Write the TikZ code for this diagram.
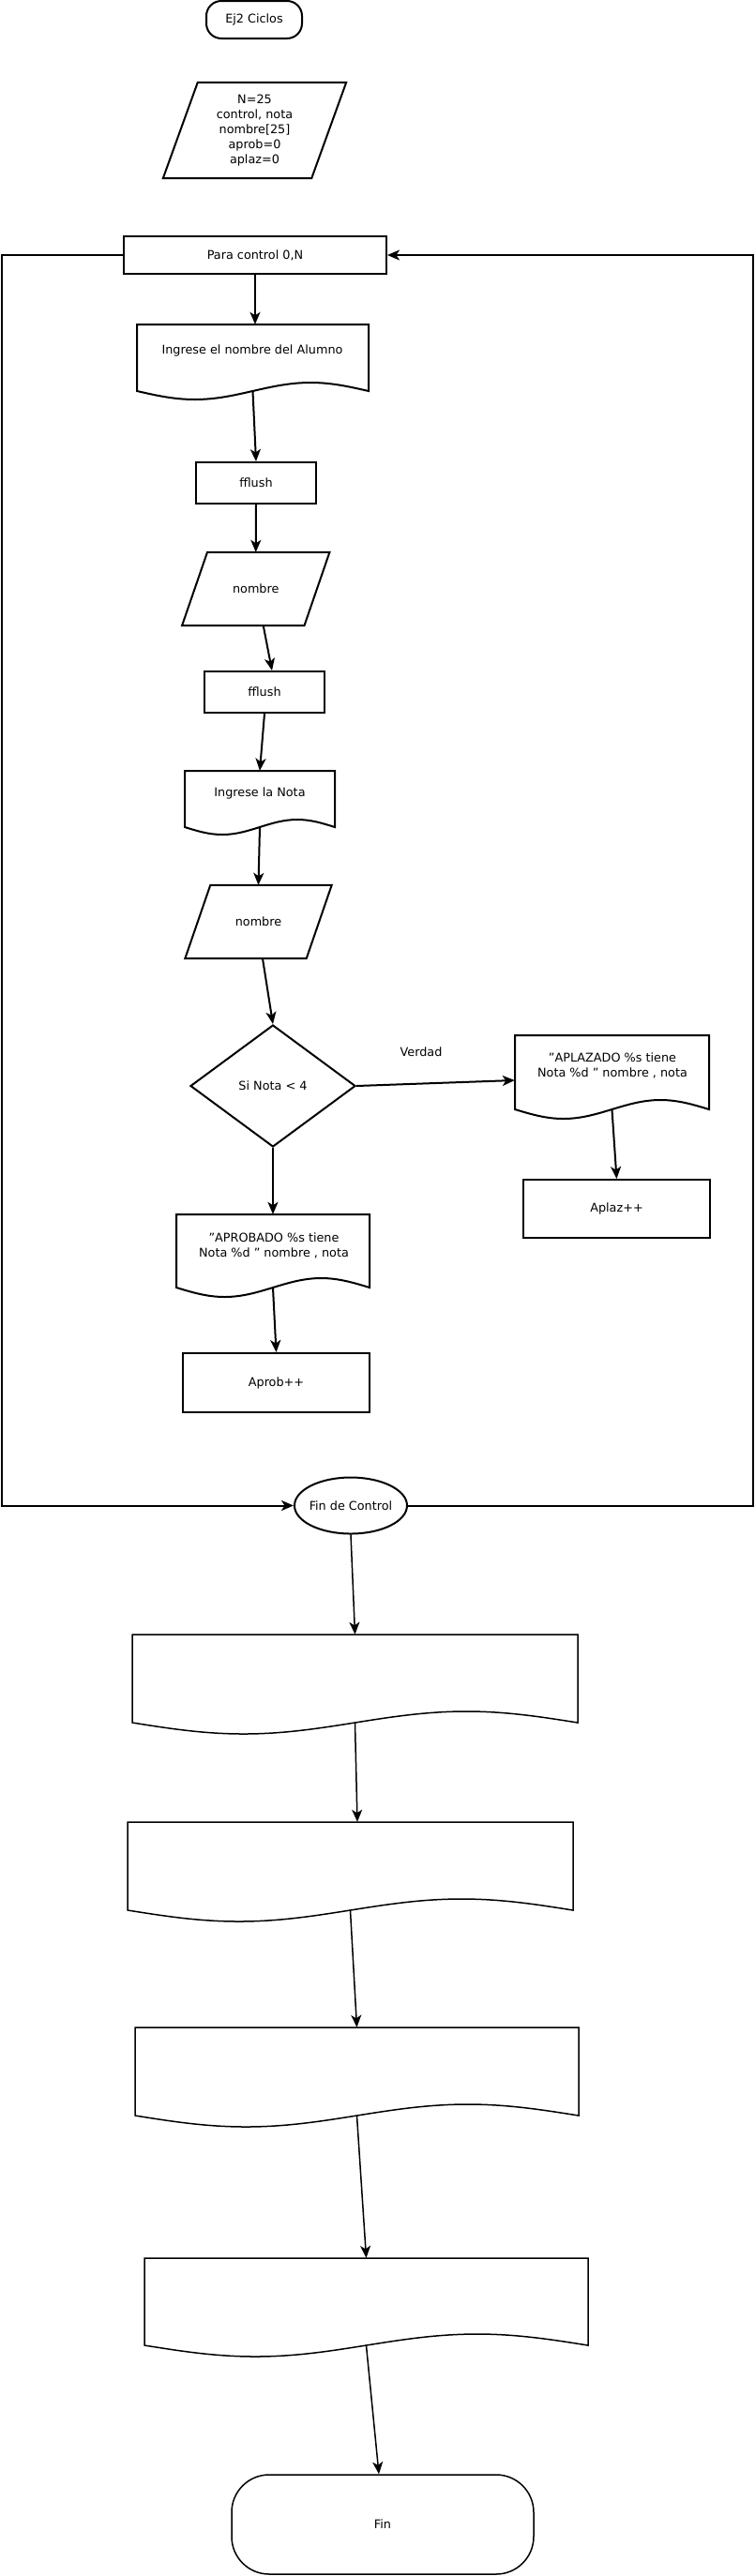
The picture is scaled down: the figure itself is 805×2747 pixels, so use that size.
\documentclass[tikz,border=0pt]{standalone}
\usepackage{fontspec}
\setmainfont{DejaVu Sans}
\usetikzlibrary{arrows.meta,shapes.geometric,calc}
\newcommand\dfont{\fontsize{12.8pt}{16pt}\selectfont}
\tikzset{
  ln/.style={line width=2pt},
  lnb/.style={line width=1.5pt},
  box/.style={draw, ln, rectangle, inner sep=0pt},
  txt/.style={inner sep=0pt, align=center},
  arr/.style={ln, -{Stealth[length=13pt,width=11pt,inset=3.5pt]}},
  arrb/.style={lnb, -{Stealth[length=13pt,width=11pt,inset=3.5pt]}},
}
% document: name, L, T, R, B, amplitude, line style
\newcommand\mkdoc[7]{%
  \node[inner sep=0pt, minimum width={(#4-#2)*1pt}, minimum height={(#5-#3)*1pt}] (#1) at ({(#2+#4)/2},{(#3+#5)/2}) {};
  \draw[#7] (#2,#3) -- (#4,#3) -- (#4,#5)
     sin ({#4-(#4-#2)/4},{#5-#6}) cos ({(#2+#4)/2},#5)
     sin ({#2+(#4-#2)/4},{#5+#6}) cos (#2,#5) -- cycle;
}
% parallelogram: name, cx, cy, w, h, half slant, text
\newcommand\mkpar[7]{%
  \node[txt, minimum width={#4*1pt}, minimum height={#5*1pt}] (#1) at (#2,#3) {#7};
  \draw[ln] ([xshift=#6pt]#1.north west) -- ([xshift=#6pt]#1.north east)
     -- ([xshift=-#6pt]#1.south east) -- ([xshift=-#6pt]#1.south west) -- cycle;
}
\begin{document}
\begin{tikzpicture}[x=1pt,y=-1pt,font=\dfont]
\useasboundingbox (0,0) rectangle (805,2747);
\fill[white] (0,0) rectangle (805,2747);

% start
\node[draw, ln, rounded corners=16pt, minimum width=102pt, minimum height=40pt, inner sep=0pt] (start) at (271,21) {Ej2 Ciclos};

% declarations
\mkpar{init}{271.5}{139}{158}{102}{18.5}{N=25\\control, nota\\nombre[25]\\aprob=0\\aplaz=0}

% loop header
\node[box, minimum width=280pt, minimum height=40pt] (para) at (272,272) {Para control 0,N};

% document 1
\mkdoc{docA}{146}{346}{393}{417}{9}{ln}
\node[txt] (docAt) at (269,374) {Ingrese el nombre del Alumno};

\node[box, minimum width=128pt, minimum height=44pt] (ff1) at (273,515) {fflush};
\mkpar{nom1}{272.75}{628}{130}{78}{13.5}{nombre}
\node[box, minimum width=128pt, minimum height=44pt] (ff2) at (282,738) {fflush};

\mkdoc{docB}{197}{822}{357}{882}{8}{ln}
\node[txt] (docBt) at (277,846) {Ingrese la Nota};

\mkpar{nom2}{275.5}{983}{129}{78}{13.5}{nombre}

\node[draw, ln, diamond, minimum width=176pt, minimum height=130pt, inner sep=0pt] (cond) at (291,1158) {Si Nota < 4};

\node[txt] (verdad) at (449,1122) {Verdad};

\mkdoc{docC}{549}{1104}{756}{1183}{10}{ln}
\node[txt] (docCt) at (653,1136.5) {"APLAZADO \%s tiene\\Nota \%d " nombre , nota};
\node[box, minimum width=199pt, minimum height=62pt] (aplaz) at (657.5,1289) {Aplaz++};

\mkdoc{docD}{188}{1295}{394}{1373}{10}{ln}
\node[txt] (docDt) at (292,1328) {"APROBADO \%s tiene\\Nota \%d " nombre , nota};
\node[box, minimum width=199pt, minimum height=63pt] (aprob) at (294.5,1474.5) {Aprob++};

% end of loop
\node[draw, ln, ellipse, minimum width=120pt, minimum height=60pt, inner sep=0pt,
      label={center:Fin de Control}] (finctl) at (374,1605.5) {};

\coordinate (loopL) at (1.5,0);
\coordinate (loopR) at (803,0);

% empty output documents
\mkdoc{docE}{141}{1743}{616}{1837}{12}{lnb}
\mkdoc{docF}{136}{1943}{611}{2037}{12}{lnb}
\mkdoc{docG}{144}{2162}{617}{2256}{12}{lnb}
\mkdoc{docH}{154}{2408}{627}{2501}{12}{lnb}

\node[draw, lnb, rounded corners=40pt, minimum width=322pt, minimum height=106pt, inner sep=0pt] (fin) at (408,2692) {Fin};

% connectors
\draw[arr] (para.south) -- (para.south |- docA.north);
\draw[arr] (docA.south) -- (ff1.north);
\draw[arr] (ff1.south) -- (nom1.north);
\draw[arr] ([xshift=8pt]nom1.south) -- ([xshift=8pt]ff2.north);
\draw[arr] (ff2.south) -- (docB.north);
\draw[arr] (docB.south) -- (nom2.north);
\draw[arr] ([xshift=4.5pt]nom2.south) -- (cond.north);
\draw[arr] (cond.east) -- ([yshift=-8.5pt]docC.west);
\draw[arr] (docC.south) -- (aplaz.north);
\draw[arr] (cond.south) -- (docD.north);
\draw[arr] (docD.south) -- (aprob.north);

\draw[arr] (para.west) -- (loopL |- para.west) -- (loopL |- finctl.west) -- (finctl.west);
\draw[arr] (finctl.east) -- (loopR |- finctl.east) -- (loopR |- para.east) -- (para.east);

\draw[arrb] (finctl.south) -- (docE.north);
\draw[arrb] (docE.south) -- ([xshift=7.5pt]docF.north);
\draw[arrb] (docF.south) -- (docG.north);
\draw[arrb] (docG.south) -- (docH.north);
\draw[arrb] (docH.south) -- ([xshift=-4pt]fin.north);
\end{tikzpicture}
\end{document}
